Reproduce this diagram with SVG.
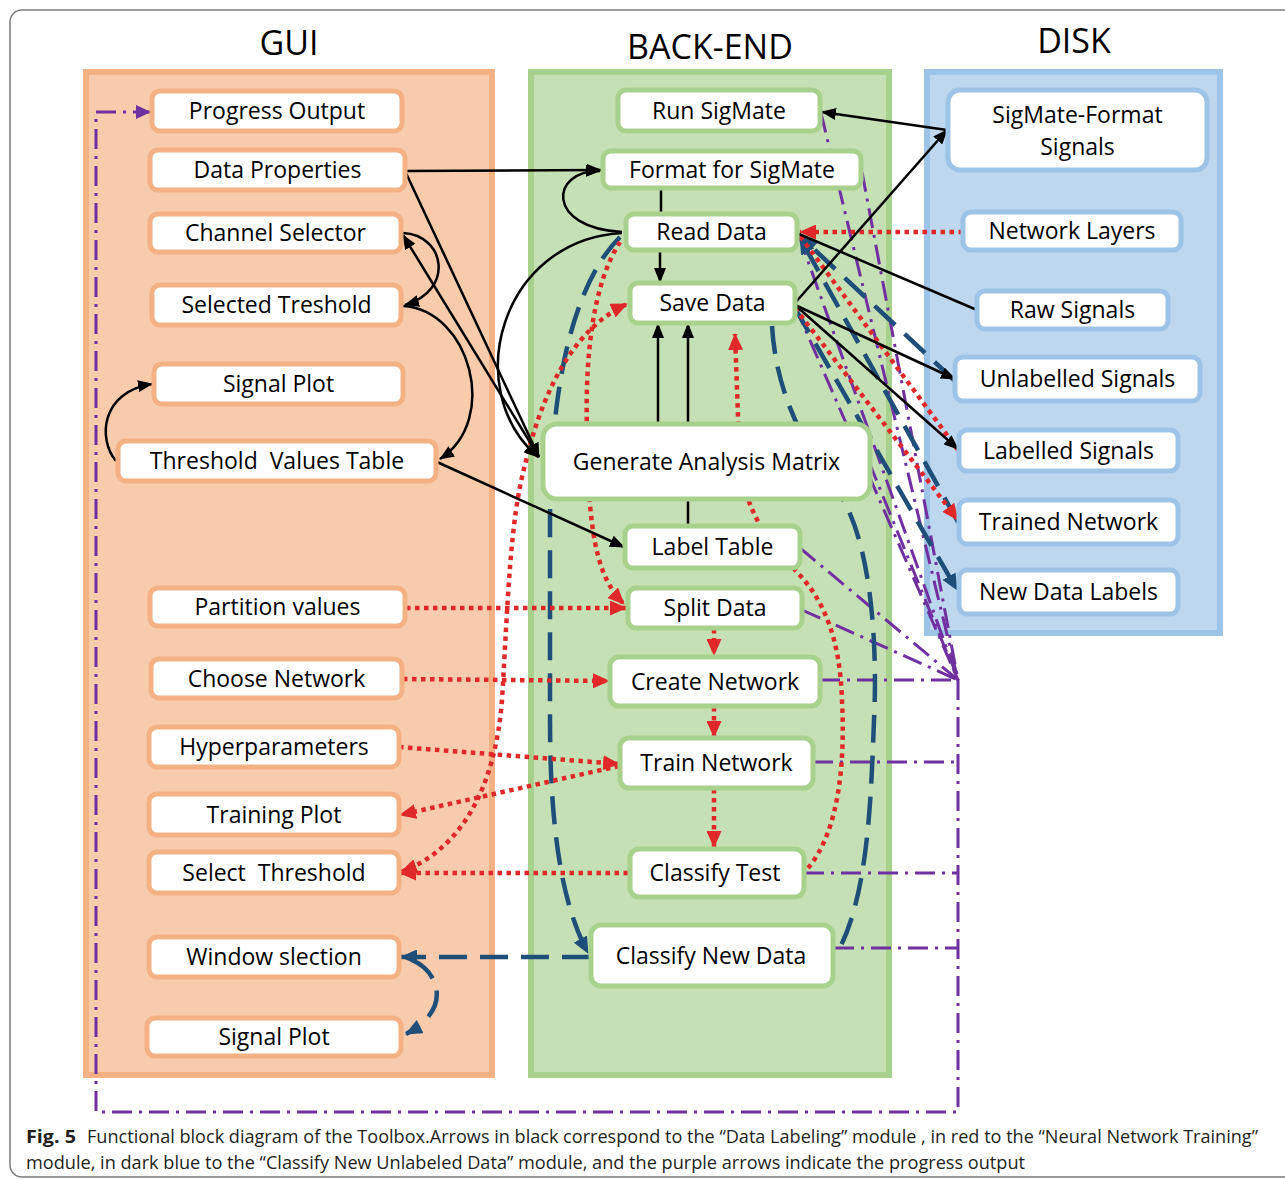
<svg xmlns="http://www.w3.org/2000/svg" width="1285" height="1180" viewBox="0 0 1285 1180">
<defs>
<style>
.pg{fill:#f8cbad;stroke:#f4b183;stroke-width:6}
.pb{fill:#c5e0b4;stroke:#a9d18e;stroke-width:6}
.pd{fill:#bdd7ee;stroke:#9dc3e6;stroke-width:6}
.ng rect,.nb rect,.nd rect{fill:#fff;stroke-width:5}
.ng rect{stroke:#f4b183}
.nb rect{stroke:#a9d18e}
.nd rect{stroke:#9dc3e6}
.t{font-family:"Open Sans","Noto Sans",sans-serif;font-size:23px;text-anchor:middle;fill:#000}
.h{font-family:"Open Sans","Noto Sans",sans-serif;font-size:34px;text-anchor:middle;fill:#000}
.cap{font-family:"Open Sans","Noto Sans",sans-serif;font-size:18px;fill:#231f20}
.k{stroke:#000;stroke-width:2.5;fill:none}
.r{stroke:#e0282a;stroke-width:4.5;stroke-dasharray:4.5 4.5;fill:none}
.b{stroke:#1f4e79;stroke-width:4.5;stroke-dasharray:28 13;fill:none}
.p{stroke:#7030a0;stroke-width:3;stroke-dasharray:20 7 3 7;fill:none}
</style>
<marker id="ak" markerUnits="userSpaceOnUse" markerWidth="15" markerHeight="12" refX="14" refY="6" orient="auto-start-reverse" viewBox="0 0 15 12"><path d="M0,0 L15,6 L0,12 z" fill="#000"/></marker>
<marker id="ar" markerUnits="userSpaceOnUse" markerWidth="17" markerHeight="15" refX="16" refY="7.5" orient="auto-start-reverse" viewBox="0 0 17 15"><path d="M0,0 L17,7.5 L0,15 z" fill="#e0282a"/></marker>
<marker id="ab" markerUnits="userSpaceOnUse" markerWidth="17" markerHeight="15" refX="16" refY="7.5" orient="auto-start-reverse" viewBox="0 0 17 15"><path d="M0,0 L17,7.5 L0,15 z" fill="#1f4e79"/></marker>
<marker id="ap" markerUnits="userSpaceOnUse" markerWidth="15" markerHeight="14" refX="14" refY="7" orient="auto-start-reverse" viewBox="0 0 15 14"><path d="M0,0 L15,7 L0,14 z" fill="#7030a0"/></marker>
</defs>
<rect x="0" y="0" width="1285" height="1180" fill="#fff"/>
<rect x="10" y="10" width="1290" height="1167" rx="12" fill="none" stroke="#7a7a7a" stroke-width="1.5"/>

<g id="panels">
<rect class="pg" x="86" y="72" width="406" height="1003"/>
<rect class="pb" x="531" y="72" width="358" height="1003"/>
<rect class="pd" x="927" y="72" width="293" height="561"/>
</g>
<g id="headings">
<text class="h" x="289" y="55">GUI</text>
<text class="h" x="710" y="59">BACK-END</text>
<text class="h" x="1074" y="53">DISK</text>
</g>

<g id="connectors">
<!-- purple progress -->
<path class="p" d="M958,680 V1112 H96 V112 H150" marker-end="url(#ap)"/>
<path class="p" d="M821,113 L958,680"/>
<path class="p" d="M862,172 L958,680"/>
<path class="p" d="M799,236 L958,680"/>
<path class="p" d="M795,306 L958,680"/>
<path class="p" d="M869,462 L958,680"/>
<path class="p" d="M800,548 L958,680"/>
<path class="p" d="M802,610 L958,680"/>
<path class="p" d="M820,680 L958,680"/>
<path class="p" d="M813,762 L958,762"/>
<path class="p" d="M804,873 L958,873"/>
<path class="p" d="M834,948 L958,948"/>
<!-- blue -->
<path class="b" d="M620,237 C572,285 550,390 550,520 L550,720 C550,830 562,905 588,953" marker-end="url(#ab)"/>
<path class="b" d="M590,957 L401,957" marker-end="url(#ab)"/>
<path class="b" d="M412,960 C440,972 452,1010 406,1034" marker-end="url(#ab)"/>
<path class="b" d="M772,326 C776,390 800,440 840,495 C870,540 878,640 874,720 C871,800 868,900 836,955"/>
<path class="b" d="M955,381 L801,237" marker-end="url(#ab)"/>
<path class="b" d="M958,522 L800,238" marker-end="url(#ab)"/>
<path class="b" d="M795,308 L957,590" marker-end="url(#ab)"/>
<!-- red -->
<path class="r" d="M963,232 L800,232" marker-end="url(#ar)"/>
<path class="r" d="M958,450 L800,236"/>
<path class="r" d="M795,308 L958,520" marker-end="url(#ar)"/>
<path class="r" d="M620,242 C592,285 585,360 587,430 L590,505 C595,560 605,585 624,604" marker-end="url(#ar)"/>
<path class="r" d="M401,872 C460,850 495,790 502,700 C508,600 510,520 525,465 C540,400 570,330 627,304" marker-start="url(#ar)" marker-end="url(#ar)"/>
<path class="r" d="M406,608 L626,608" marker-end="url(#ar)"/>
<path class="r" d="M403,679 L609,681" marker-end="url(#ar)"/>
<path class="r" d="M399,747 L619,764" marker-end="url(#ar)"/>
<path class="r" d="M619,766 L400,815" marker-end="url(#ar)"/>
<path class="r" d="M628,873 L400,873" marker-end="url(#ar)"/>
<path class="r" d="M714,629 L714,655" marker-end="url(#ar)"/>
<path class="r" d="M714,707 L714,737" marker-end="url(#ar)"/>
<path class="r" d="M714,789 L714,847" marker-end="url(#ar)"/>
<path class="r" d="M808,868 C840,830 845,760 842,700 C840,640 825,600 795,570 C765,540 748,510 740,470 L735,334" marker-end="url(#ar)"/>
<!-- black -->
<path class="k" d="M405,171 L601,170" marker-end="url(#ak)"/>
<path class="k" d="M405,171 L539,457" marker-end="url(#ak)"/>
<path class="k" d="M539,457 L403,235" marker-end="url(#ak)"/>
<path class="k" d="M403,233 C445,235 455,290 405,305" marker-end="url(#ak)"/>
<path class="k" d="M403,306 C470,310 500,420 440,459" marker-end="url(#ak)"/>
<path class="k" d="M622,232 C545,228 550,170 600,171" marker-end="url(#ak)"/>
<path class="k" d="M622,233 C500,240 460,390 538,457" marker-end="url(#ak)"/>
<path class="k" d="M661,189 L661,214"/>
<path class="k" d="M660,250 L660,282" marker-end="url(#ak)"/>
<path class="k" d="M658,424 L658,324" marker-end="url(#ak)"/>
<path class="k" d="M688,424 L688,324" marker-end="url(#ak)"/>
<path class="k" d="M688,499 L688,526"/>
<path class="k" d="M437,462 L624,547" marker-end="url(#ak)"/>
<path class="k" d="M116,461 C98,440 100,392 152,384" marker-end="url(#ak)"/>
<path class="k" d="M795,303 L947,130" marker-end="url(#ak)"/>
<path class="k" d="M947,130 L822,112" marker-end="url(#ak)"/>
<path class="k" d="M799,234 L977,310"/>
<path class="k" d="M795,305 L955,379" marker-end="url(#ak)"/>
<path class="k" d="M795,305 L958,449" marker-end="url(#ak)"/>
</g>

<g id="gui-nodes">
<g id="n-progress-output" class="ng"><rect x="152" y="91" width="250" height="40" rx="8"/><text class="t" x="277" y="119">Progress Output</text></g>
<g id="n-data-properties" class="ng"><rect x="150" y="150" width="255" height="40" rx="8"/><text class="t" x="277.5" y="178">Data Properties</text></g>
<g id="n-channel-selector" class="ng"><rect x="150" y="214" width="251" height="38" rx="8"/><text class="t" x="275.5" y="241">Channel Selector</text></g>
<g id="n-selected-treshold" class="ng"><rect x="152" y="285" width="249" height="40" rx="8"/><text class="t" x="276.5" y="313">Selected Treshold</text></g>
<g id="n-signal-plot-1" class="ng"><rect x="154" y="364" width="249" height="40" rx="8"/><text class="t" x="278.5" y="392">Signal Plot</text></g>
<g id="n-threshold-values-table" class="ng"><rect x="118" y="441" width="318" height="40" rx="8"/><text class="t" x="277" y="469" xml:space="preserve">Threshold  Values Table</text></g>
<g id="n-partition-values" class="ng"><rect x="150" y="588" width="255" height="38" rx="8"/><text class="t" x="277.5" y="615">Partition values</text></g>
<g id="n-choose-network" class="ng"><rect x="151" y="659" width="251" height="39" rx="8"/><text class="t" x="276.5" y="686.5">Choose Network</text></g>
<g id="n-hyperparameters" class="ng"><rect x="149" y="727" width="250" height="40" rx="8"/><text class="t" x="274" y="755">Hyperparameters</text></g>
<g id="n-training-plot" class="ng"><rect x="149" y="794" width="250" height="41" rx="8"/><text class="t" x="274" y="822.5">Training Plot</text></g>
<g id="n-select-threshold" class="ng"><rect x="149" y="852" width="250" height="41" rx="8"/><text class="t" x="274" y="880.5" xml:space="preserve">Select  Threshold</text></g>
<g id="n-window-slection" class="ng"><rect x="149" y="937" width="250" height="40" rx="8"/><text class="t" x="274" y="965">Window slection</text></g>
<g id="n-signal-plot-2" class="ng"><rect x="147" y="1018" width="254" height="38" rx="8"/><text class="t" x="274" y="1045">Signal Plot</text></g>
</g>

<g id="backend-nodes">
<g id="n-run-sigmate" class="nb"><rect x="618" y="90" width="202" height="41" rx="8"/><text class="t" x="719" y="118.5">Run SigMate</text></g>
<g id="n-format-for-sigmate" class="nb"><rect x="603" y="151" width="258" height="37" rx="8"/><text class="t" x="732" y="177.5">Format for SigMate</text></g>
<g id="n-read-data" class="nb"><rect x="626" y="214" width="171" height="36" rx="8"/><text class="t" x="711.5" y="240">Read Data</text></g>
<g id="n-save-data" class="nb"><rect x="630" y="283" width="165" height="40" rx="8"/><text class="t" x="712.5" y="311">Save Data</text></g>
<g id="n-generate-analysis-matrix" class="nb"><rect x="543" y="424" width="327" height="75" rx="14"/><text class="t" x="706.5" y="469.5">Generate Analysis Matrix</text></g>
<g id="n-label-table" class="nb"><rect x="625" y="526" width="175" height="42" rx="8"/><text class="t" x="712.5" y="555">Label Table</text></g>
<g id="n-split-data" class="nb"><rect x="628" y="588" width="174" height="40" rx="8"/><text class="t" x="715" y="616">Split Data</text></g>
<g id="n-create-network" class="nb"><rect x="610" y="657" width="210" height="49" rx="9"/><text class="t" x="715" y="689.5">Create Network</text></g>
<g id="n-train-network" class="nb"><rect x="620" y="738" width="193" height="50" rx="9"/><text class="t" x="716.5" y="771">Train Network</text></g>
<g id="n-classify-test" class="nb"><rect x="630" y="849" width="174" height="48" rx="9"/><text class="t" x="715" y="881">Classify Test</text></g>
<g id="n-classify-new-data" class="nb"><rect x="591" y="925" width="242" height="61" rx="10"/><text class="t" x="711" y="963.5">Classify New Data</text></g>
</g>

<g id="disk-nodes">
<g id="n-sigmate-format-signals" class="nd"><rect x="948" y="90" width="259" height="80" rx="12"/><text class="t" x="1077.5" y="123">SigMate-Format</text><text class="t" x="1077.5" y="155">Signals</text></g>
<g id="n-network-layers" class="nd"><rect x="963" y="212" width="218" height="38" rx="8"/><text class="t" x="1072" y="239">Network Layers</text></g>
<g id="n-raw-signals" class="nd"><rect x="977" y="291" width="191" height="38" rx="8"/><text class="t" x="1072.5" y="318">Raw Signals</text></g>
<g id="n-unlabelled-signals" class="nd"><rect x="955" y="357" width="245" height="44" rx="8"/><text class="t" x="1077.5" y="387">Unlabelled Signals</text></g>
<g id="n-labelled-signals" class="nd"><rect x="959" y="430" width="219" height="41" rx="8"/><text class="t" x="1068.5" y="458.5">Labelled Signals</text></g>
<g id="n-trained-network" class="nd"><rect x="959" y="500" width="219" height="44" rx="8"/><text class="t" x="1068.5" y="530">Trained Network</text></g>
<g id="n-new-data-labels" class="nd"><rect x="959" y="570" width="219" height="44" rx="8"/><text class="t" x="1068.5" y="600">New Data Labels</text></g>
</g>

<g id="caption">
<text class="cap" x="26" y="1143" font-weight="bold" textLength="50" lengthAdjust="spacingAndGlyphs">Fig. 5</text>
<text class="cap" x="87" y="1143" textLength="1171" lengthAdjust="spacingAndGlyphs">Functional block diagram of the Toolbox.Arrows in black correspond to the “Data Labeling” module , in red to the “Neural Network Training”</text>
<text class="cap" x="26" y="1169" textLength="999" lengthAdjust="spacingAndGlyphs">module, in dark blue to the “Classify New Unlabeled Data” module, and the purple arrows indicate the progress output</text>
</g>
</svg>
